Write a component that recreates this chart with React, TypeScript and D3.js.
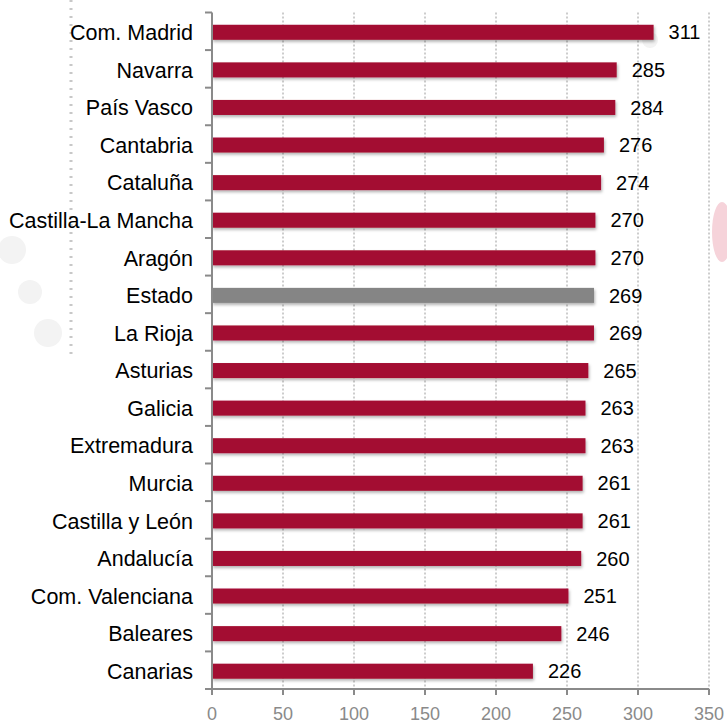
import React, { useEffect, useRef } from "react";
import * as d3 from "d3";

const regions = [
  "Com. Madrid", "Navarra", "País Vasco", "Cantabria", "Cataluña",
  "Castilla-La Mancha", "Aragón", "Estado", "La Rioja", "Asturias",
  "Galicia", "Extremadura", "Murcia", "Castilla y León", "Andalucía",
  "Com. Valenciana", "Baleares", "Canarias",
];
const values = [311, 285, 284, 276, 274, 270, 270, 269, 269, 265, 263, 263, 261, 261, 260, 251, 246, 226];
const highlight = "Estado";
const xTicks = [0, 50, 100, 150, 200, 250, 300, 350];

const App = () => {
  const svgRef = useRef<SVGSVGElement>(null);

  useEffect(() => {
    const width = 727, height = 724;
    const left = 212, right = 709, top = 12.5, bottom = 689;
    const barColor = "#a30e31", grayBar = "#858585", axisColor = "#8a8a8a";
    const font = "Arial, 'Liberation Sans', sans-serif";

    const svg = d3.select(svgRef.current).attr("width", width).attr("height", height).html("");

    // soft shadow under the bars
    const defs = svg.append("defs");
    const f = defs.append("filter").attr("id", "shadow").attr("x", "-5%").attr("y", "-40%").attr("width", "110%").attr("height", "190%");
    f.append("feDropShadow").attr("dx", 1).attr("dy", 2).attr("stdDeviation", 1.6).attr("flood-color", "#000").attr("flood-opacity", 0.3);

    // faint background decorations
    const deco = svg.append("g");
    [[12, 250, 14], [30, 292, 12], [48, 333, 14], [650, 40, 8]].forEach(([cx, cy, r]) =>
      deco.append("circle").attr("cx", cx).attr("cy", cy).attr("r", r).attr("fill", "#f3f3f3"));
    deco.append("ellipse").attr("cx", 722).attr("cy", 232).attr("rx", 10).attr("ry", 30).attr("fill", "#f6d3da");
    deco.append("line").attr("x1", 71).attr("x2", 71).attr("y1", 0).attr("y2", 356)
      .attr("stroke", "#c8c8c8").attr("stroke-width", 3).attr("stroke-dasharray", "2,6");

    const x = d3.scaleLinear().domain([0, 350]).range([left, right]);
    const y = d3.scaleBand().domain(regions).range([top, bottom]).paddingInner(0.6).paddingOuter(0.3);

    // dotted gridlines
    svg.append("g").selectAll("line").data(xTicks.slice(1)).enter().append("line")
      .attr("x1", (d) => x(d)).attr("x2", (d) => x(d))
      .attr("y1", top).attr("y2", bottom)
      .attr("stroke", "#9a9a9a").attr("stroke-width", 1).attr("stroke-dasharray", "2,2");

    // bars
    svg.append("g").selectAll("rect").data(regions).enter().append("rect")
      .attr("x", x(0))
      .attr("y", (d) => (y(d) as number) + 1)
      .attr("width", (d, i) => x(values[i]) - x(0))
      .attr("height", y.bandwidth())
      .attr("fill", (d) => (d === highlight ? grayBar : barColor))
      .attr("filter", "url(#shadow)");

    // value labels
    svg.append("g").selectAll("text").data(regions).enter().append("text")
      .attr("x", (d, i) => x(values[i]) + 15)
      .attr("y", (d) => (y(d) as number) + 1 + y.bandwidth() / 2)
      .attr("dy", "0.36em")
      .style("font-family", font)
      .style("font-size", "20px")
      .attr("fill", "#000")
      .text((d, i) => values[i]);

    // category labels
    svg.append("g").selectAll("text").data(regions).enter().append("text")
      .attr("x", 193)
      .attr("y", (d) => (y(d) as number) + 1 + y.bandwidth() / 2)
      .attr("dy", "0.36em")
      .attr("text-anchor", "end")
      .style("font-family", font)
      .style("font-size", "21.5px")
      .attr("fill", "#000")
      .text((d) => d);

    // left axis with ticks between categories
    const ax = svg.append("g").attr("stroke", axisColor).attr("stroke-width", 2);
    ax.append("line").attr("x1", left).attr("x2", left).attr("y1", top).attr("y2", bottom);
    d3.range(regions.length + 1).forEach((i) => {
      const yy = top + i * ((bottom - top) / regions.length);
      ax.append("line").attr("x1", left - 7).attr("x2", left).attr("y1", yy).attr("y2", yy);
    });

    // bottom axis
    ax.append("line").attr("x1", left).attr("x2", right).attr("y1", bottom).attr("y2", bottom);
    xTicks.forEach((t) => {
      ax.append("line").attr("x1", x(t)).attr("x2", x(t)).attr("y1", bottom).attr("y2", bottom + 6);
    });
    svg.append("g").selectAll("text").data(xTicks).enter().append("text")
      .attr("x", (d) => x(d))
      .attr("y", 714)
      .attr("dy", "0.36em")
      .attr("text-anchor", "middle")
      .style("font-family", font)
      .style("font-size", "18px")
      .attr("fill", axisColor)
      .text((d) => d);
  }, []);

  return (
    <div style={{ position: "absolute", left: 0, top: 0 }}>
      <svg ref={svgRef}></svg>
    </div>
  );
};

export default App;
